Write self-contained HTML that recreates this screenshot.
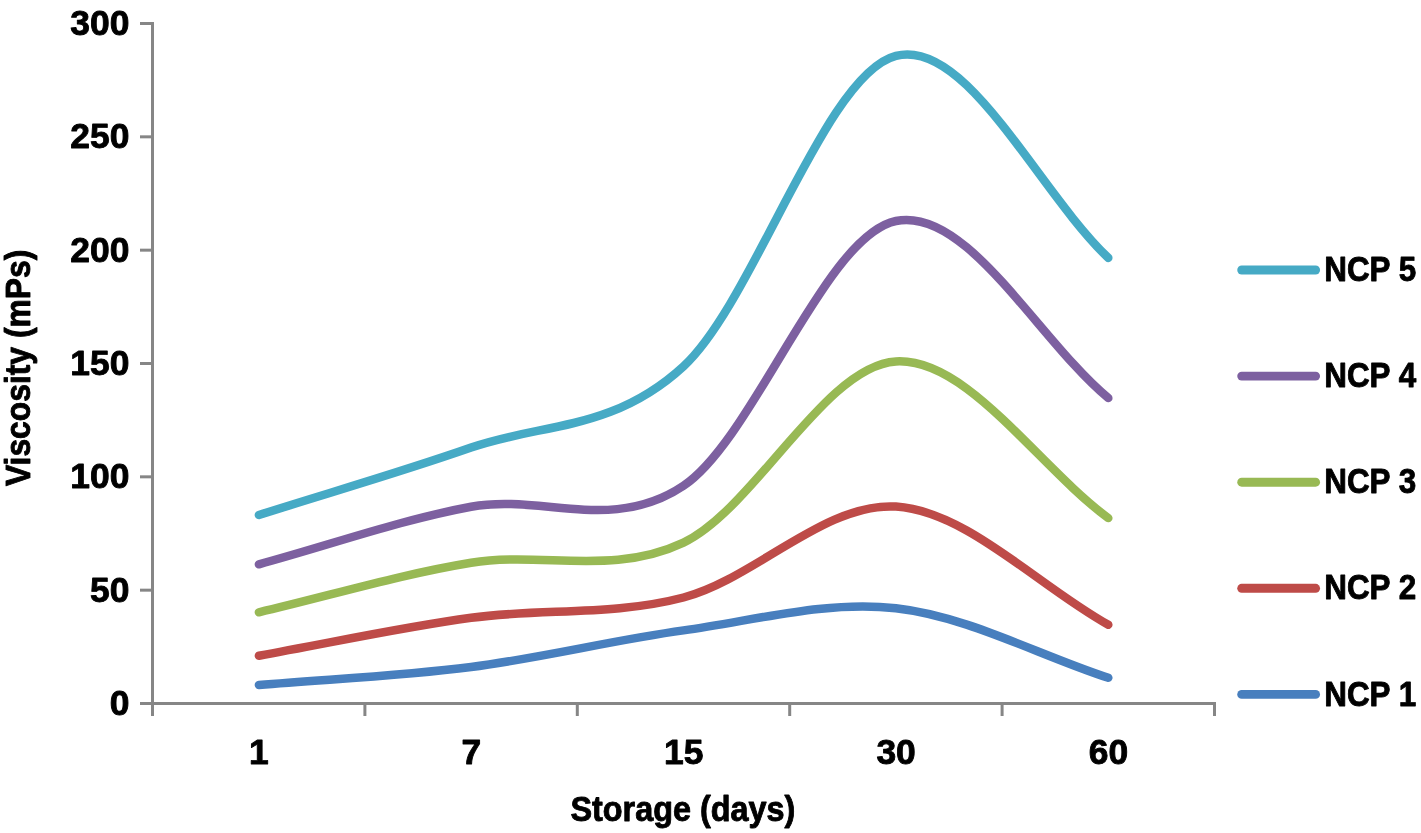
<!DOCTYPE html>
<html><head><meta charset="utf-8"><title>Viscosity vs Storage</title>
<style>
html,body{margin:0;padding:0;background:#fff;}
body{width:1421px;height:833px;overflow:hidden;font-family:"Liberation Sans",sans-serif;}
svg{display:block;}
text{font-family:"Liberation Sans",sans-serif;font-weight:bold;fill:#000;stroke:#000;stroke-width:0.9px;stroke-linejoin:round;}
svg{will-change:transform;}
</style></head><body>
<svg width="1421" height="833" viewBox="0 0 1421 833">
<rect x="0" y="0" width="1421" height="833" fill="#ffffff"/>
<g stroke="#868686" stroke-width="3" fill="none" stroke-linecap="butt">
<line x1="152.5" y1="22.0" x2="152.5" y2="716.0"/>
<line x1="140.0" y1="703.5" x2="1216.0" y2="703.5"/>
<line x1="140.0" y1="23.50" x2="152.5" y2="23.50"/>
<line x1="140.0" y1="136.83" x2="152.5" y2="136.83"/>
<line x1="140.0" y1="250.17" x2="152.5" y2="250.17"/>
<line x1="140.0" y1="363.50" x2="152.5" y2="363.50"/>
<line x1="140.0" y1="476.83" x2="152.5" y2="476.83"/>
<line x1="140.0" y1="590.17" x2="152.5" y2="590.17"/>
<line x1="364.90" y1="703.5" x2="364.90" y2="716.0"/>
<line x1="577.30" y1="703.5" x2="577.30" y2="716.0"/>
<line x1="789.70" y1="703.5" x2="789.70" y2="716.0"/>
<line x1="1002.10" y1="703.5" x2="1002.10" y2="716.0"/>
<line x1="1214.50" y1="703.5" x2="1214.50" y2="716.0"/>
</g>
<g font-size="35.4" text-anchor="end">
<text x="129.4" y="35.00">300</text>
<text x="129.4" y="148.33">250</text>
<text x="129.4" y="261.67">200</text>
<text x="129.4" y="375.00">150</text>
<text x="129.4" y="488.33">100</text>
<text x="129.4" y="601.67">50</text>
<text x="129.4" y="715.00">0</text>
</g>
<g font-size="35.4" text-anchor="middle">
<text x="258.90" y="764.1">1</text>
<text x="471.30" y="764.1">7</text>
<text x="683.70" y="764.1">15</text>
<text x="896.10" y="764.1">30</text>
<text x="1108.50" y="764.1">60</text>
</g>
<text x="682.9" y="821.1" font-size="35.4" text-anchor="middle" textLength="225" lengthAdjust="spacingAndGlyphs">Storage (days)</text>
<text transform="translate(30.3 367.9) rotate(-90)" font-size="35.4" text-anchor="middle" textLength="236.4" lengthAdjust="spacingAndGlyphs">Viscosity (mPs)</text>
<g fill="none" stroke-width="8.5" stroke-linecap="round" stroke-linejoin="round">
<path d="M258.90 685.00 C329.63 679.00 400.33 676.10 471.10 667.00 C541.87 657.90 612.70 640.20 683.50 630.40 C754.30 620.60 825.10 600.30 895.90 608.20 C966.70 616.10 1037.50 654.60 1108.30 677.80" stroke="#487FBE"/>
<path d="M258.90 655.70 C329.63 643.07 400.33 627.50 471.10 617.80 C541.87 608.10 612.70 616.03 683.50 597.50 C754.30 578.97 825.10 502.05 895.90 506.60 C966.70 511.15 1037.50 585.40 1108.30 624.80" stroke="#BE4B48"/>
<path d="M258.90 612.30 C329.63 595.80 400.33 574.42 471.10 562.80 C541.87 551.18 612.70 576.17 683.50 542.60 C754.30 509.03 825.10 365.48 895.90 361.40 C966.70 357.32 1037.50 465.87 1108.30 518.10" stroke="#98B954"/>
<path d="M258.90 564.30 C329.63 545.13 400.33 519.88 471.10 506.80 C541.87 493.72 612.70 533.43 683.50 485.80 C754.30 438.17 825.10 235.62 895.90 221.00 C966.70 206.38 1037.50 339.07 1108.30 398.10" stroke="#7D60A0"/>
<path d="M258.90 515.00 C329.63 492.53 400.33 472.38 471.10 447.60 C541.87 422.82 612.70 431.58 683.50 366.30 C754.30 301.02 825.10 73.97 895.90 55.90 C966.70 37.83 1037.50 190.57 1108.30 257.90" stroke="#46AAC5"/>
</g>
<g stroke-width="8.9" stroke-linecap="round">
<line x1="1241.7" y1="694.4" x2="1315.6" y2="694.4" stroke="#487FBE"/>
<line x1="1241.7" y1="588.3" x2="1315.6" y2="588.3" stroke="#BE4B48"/>
<line x1="1241.7" y1="482.2" x2="1315.6" y2="482.2" stroke="#98B954"/>
<line x1="1241.7" y1="376.1" x2="1315.6" y2="376.1" stroke="#7D60A0"/>
<line x1="1241.7" y1="270.0" x2="1315.6" y2="270.0" stroke="#46AAC5"/>
</g>
<g font-size="35.4">
<text x="1324.2" y="705.5" textLength="92" lengthAdjust="spacingAndGlyphs">NCP 1</text>
<text x="1324.2" y="599.4" textLength="92" lengthAdjust="spacingAndGlyphs">NCP 2</text>
<text x="1324.2" y="493.3" textLength="92" lengthAdjust="spacingAndGlyphs">NCP 3</text>
<text x="1324.2" y="387.2" textLength="92" lengthAdjust="spacingAndGlyphs">NCP 4</text>
<text x="1324.2" y="281.1" textLength="92" lengthAdjust="spacingAndGlyphs">NCP 5</text>
</g>
</svg></body></html>
